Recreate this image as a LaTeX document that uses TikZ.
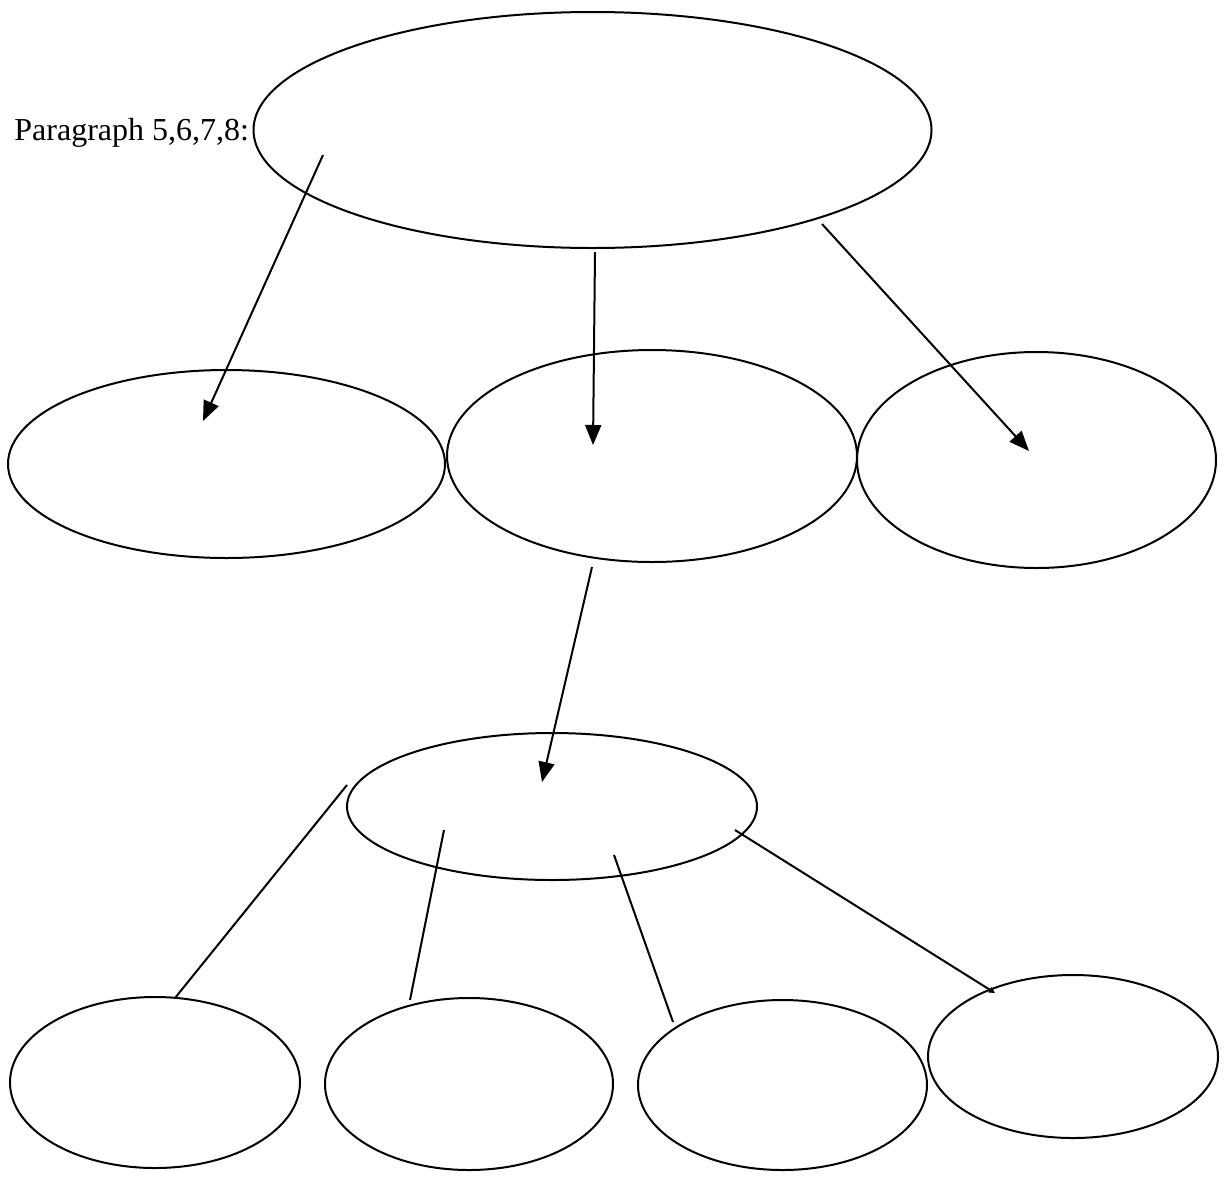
\documentclass[tikz,border=0pt]{standalone}
\usepackage{fontspec}
\setmainfont{Liberation Serif}
\usetikzlibrary{shapes.geometric,arrows.meta}
\begin{document}
\begin{tikzpicture}[x=0.5pt,y=-0.5pt,
  oval/.style={draw,ellipse,line width=1pt,inner sep=0pt},
  conn/.style={line width=1pt},
  arr/.style={conn,-{Triangle[length=10pt,width=8pt]}},
  tinyarr/.style={conn,-{Triangle[length=3pt,width=3pt]}}]
\useasboundingbox (0,0) rectangle (1225,1189);
\node[oval,minimum width=339pt,minimum height=118pt] (top) at (592.5,130) {};
\node[anchor=base west,font=\fontsize{16}{19}\selectfont,inner sep=0pt] (lbl) at (14,140) {Paragraph 5,6,7,8:};
\node[oval,minimum width=218.5pt,minimum height=94pt] (m1) at (226.5,464) {};
\node[oval,minimum width=205pt,minimum height=106pt] (m2) at (652,456) {};
\node[oval,minimum width=179.5pt,minimum height=108pt] (m3) at (1036.5,460) {};
\node[oval,minimum width=205pt,minimum height=73.5pt] (s) at (552,806.5) {};
\node[oval,minimum width=145pt,minimum height=85.5pt] (b1) at (155,1082.5) {};
\node[oval,minimum width=144pt,minimum height=86pt] (b2) at (469,1084) {};
\node[oval,minimum width=144.5pt,minimum height=85pt] (b3) at (782.5,1085) {};
\node[oval,minimum width=145pt,minimum height=81.5pt] (b4) at (1073,1056.5) {};
% connector end points
\coordinate (t1) at (323,155);
\coordinate (e1) at (203,421);
\coordinate (t2) at (595,252);
\coordinate (e2) at (593,445);
\coordinate (t3) at (822,224);
\coordinate (e3) at (1029,451);
\coordinate (m2s) at (592,567);
\coordinate (es) at (542,782);
\coordinate (sa) at (347,785);
\coordinate (ba) at (175,998);
\coordinate (sb) at (444,830);
\coordinate (bb) at (410,1000);
\coordinate (sc) at (614,855);
\coordinate (bc) at (673,1022);
\coordinate (sd) at (735,830);
\coordinate (bd) at (995,993);
\draw[arr] (t1) -- (e1);
\draw[arr] (t2) -- (e2);
\draw[arr] (t3) -- (e3);
\draw[arr] (m2s) -- (es);
\draw[conn] (sa) -- (ba);
\draw[conn] (sb) -- (bb);
\draw[conn] (sc) -- (bc);
\draw[tinyarr] (sd) -- (bd);
\end{tikzpicture}
\end{document}
